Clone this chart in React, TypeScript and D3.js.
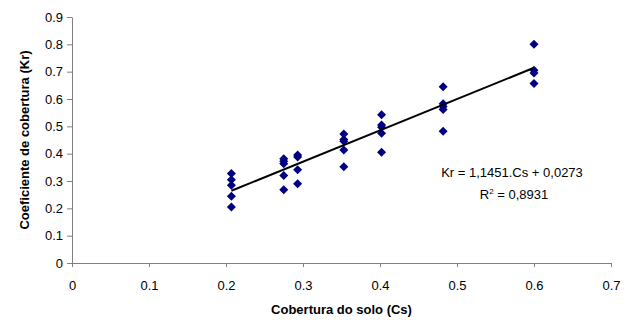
import React, { useEffect, useRef } from "react";
import * as d3 from "d3";

// soil cover (Cs) columns and the Kr values measured at each
const cs = [0.207, 0.275, 0.293, 0.353, 0.402, 0.482, 0.6];
const kr = [
  [0.327, 0.305, 0.284, 0.244, 0.205],
  [0.381, 0.372, 0.363, 0.32, 0.268],
  [0.395, 0.388, 0.341, 0.29],
  [0.472, 0.452, 0.445, 0.413, 0.352],
  [0.542, 0.505, 0.497, 0.475, 0.405],
  [0.645, 0.583, 0.573, 0.562, 0.482],
  [0.8, 0.705, 0.695, 0.657],
];
const xTicks = [0, 0.1, 0.2, 0.3, 0.4, 0.5, 0.6, 0.7];
const yTicks = [0, 0.1, 0.2, 0.3, 0.4, 0.5, 0.6, 0.7, 0.8, 0.9];
const slope = 1.1451;
const intercept = 0.0273;

const App = () => {
  const svgRef = useRef<SVGSVGElement>(null);
  const width = 632;
  const height = 320;
  const marginLeft = 72;
  const marginRight = 21;
  const marginTop = 17;
  const marginBottom = 57;
  const font = "Arial, 'Liberation Sans', sans-serif";

  useEffect(() => {
    const svg = d3.select(svgRef.current);
    svg.selectAll("*").remove();

    const x = d3.scaleLinear().domain([0, 0.7]).range([marginLeft, width - marginRight]);
    const y = d3.scaleLinear().domain([0, 0.9]).range([height - marginBottom, marginTop]);

    // y axis
    const yAxis = svg
      .append("g")
      .attr("transform", `translate(${marginLeft},0)`)
      .call(d3.axisLeft(y).tickValues(yTicks).tickFormat(d3.format("")).tickSize(5).tickSizeOuter(0));
    yAxis.selectAll("path, line").attr("stroke", "#808080");
    yAxis
      .selectAll("text")
      .attr("x", -9)
      .style("font-family", font)
      .style("font-size", "13px")
      .attr("fill", "#000");

    // x axis
    const xAxis = svg
      .append("g")
      .attr("transform", `translate(0,${height - marginBottom})`)
      .call(d3.axisBottom(x).tickValues(xTicks).tickFormat(d3.format("")).tickSize(4).tickSizeOuter(0));
    xAxis.selectAll("path, line").attr("stroke", "#808080");
    xAxis
      .selectAll("text")
      .attr("y", 18)
      .style("font-family", font)
      .style("font-size", "13px")
      .attr("fill", "#000");

    // points
    const points = cs.flatMap((c, i) => kr[i].map((k) => ({ c, k })));
    const diamond = "M0,-4.5L4.5,0L0,4.5L-4.5,0Z";
    svg
      .append("g")
      .selectAll("path")
      .data(points)
      .join("path")
      .attr("d", diamond)
      .attr("transform", (d) => `translate(${x(d.c)},${y(d.k)})`)
      .attr("fill", "#000080");

    // linear trend line
    const xMin = d3.min(cs) as number;
    const xMax = d3.max(cs) as number;
    svg
      .append("line")
      .attr("x1", x(xMin))
      .attr("y1", y(slope * xMin + intercept))
      .attr("x2", x(xMax))
      .attr("y2", y(slope * xMax + intercept))
      .attr("stroke", "#000")
      .attr("stroke-width", 2);

    // equation
    svg
      .append("text")
      .attr("x", 512)
      .attr("y", 177)
      .attr("text-anchor", "middle")
      .style("font-family", font)
      .style("font-size", "13px")
      .text("Kr = 1,1451.Cs + 0,0273");

    const r2 = svg
      .append("text")
      .attr("x", 514)
      .attr("y", 199)
      .attr("text-anchor", "middle")
      .style("font-family", font)
      .style("font-size", "13px");
    r2.append("tspan").text("R");
    r2.append("tspan").attr("dy", -5).style("font-size", "8px").text("2");
    r2.append("tspan").attr("dy", 5).text(" = 0,8931");

    // axis titles
    svg
      .append("text")
      .attr("x", (marginLeft + width - marginRight) / 2)
      .attr("y", 314)
      .attr("text-anchor", "middle")
      .style("font-family", font)
      .style("font-size", "13px")
      .style("font-weight", "bold")
      .text("Cobertura do solo (Cs)");

    svg
      .append("text")
      .attr("transform", `translate(24,${(marginTop + height - marginBottom) / 2}) rotate(-90)`)
      .attr("text-anchor", "middle")
      .attr("dy", "0.35em")
      .style("font-family", font)
      .style("font-size", "13px")
      .style("font-weight", "bold")
      .text("Coeficiente de cobertura (Kr)");
  }, []);

  return (
    <svg
      ref={svgRef}
      width={width}
      height={height}
      style={{ position: "absolute", left: 0, top: 0, background: "#fff" }}
    ></svg>
  );
};

export default App;
